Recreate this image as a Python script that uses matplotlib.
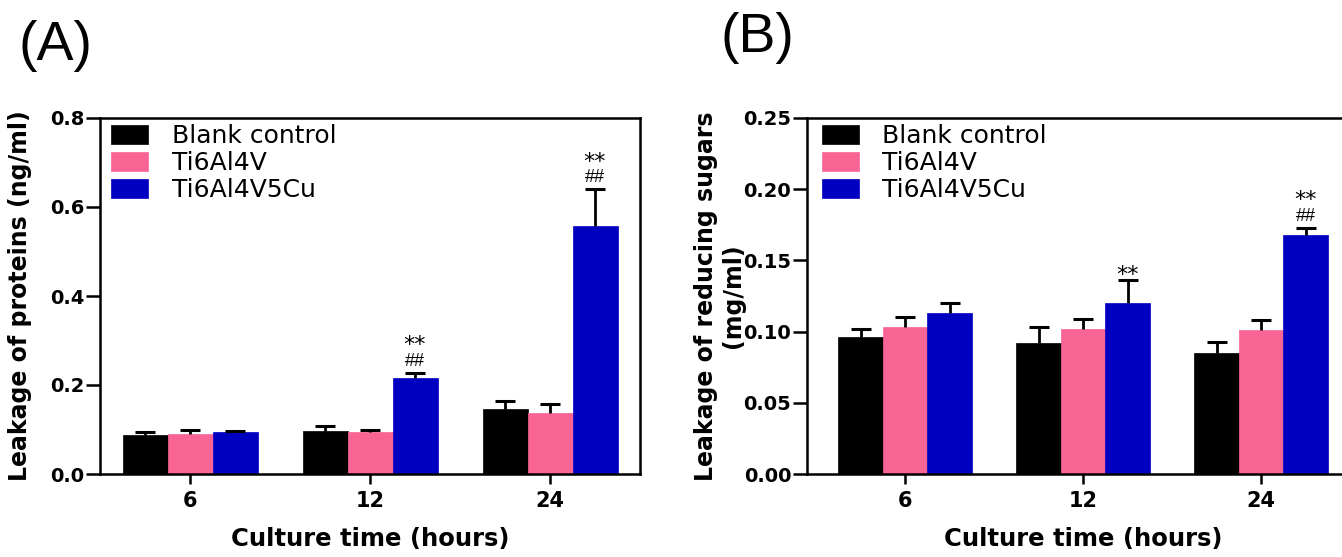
#!/usr/bin/env python3

import numpy as np
import matplotlib.pyplot as plt
import matplotlib as mpl

mpl.rcParams["font.family"] = "DejaVu Sans"

# groups on the x axis
times = ["6", "12", "24"]
groups = ["Blank control", "Ti6Al4V", "Ti6Al4V5Cu"]
colors = ["#000000", "#F86494", "#0000C0"]

# (A) leakage of proteins (ng/ml), mean and upper error
prot_blank = [0.088, 0.096, 0.147]
prot_ti = [0.090, 0.094, 0.137]
prot_cu = [0.094, 0.216, 0.557]
prot_blank_err = [0.006, 0.011, 0.017]
prot_ti_err = [0.010, 0.004, 0.020]
prot_cu_err = [0.002, 0.011, 0.083]

# (B) leakage of reducing sugars (mg/ml)
sug_blank = [0.096, 0.092, 0.085]
sug_ti = [0.103, 0.102, 0.101]
sug_cu = [0.113, 0.120, 0.168]
sug_blank_err = [0.006, 0.011, 0.008]
sug_ti_err = [0.007, 0.007, 0.007]
sug_cu_err = [0.007, 0.016, 0.005]

# significance marks above Ti6Al4V5Cu bars
prot_star = ["", "**", "**"]
prot_hash = ["", "##", "##"]
sug_star = ["", "**", "**"]
sug_hash = ["", "", "##"]

W, H = 1342, 557
fig = plt.figure(figsize=(W / 100, H / 100), dpi=100)

bw = 0.25


def draw_panel(ax, means, errs, stars, hashes, ylim, yticks, yfmt, ylabel, xlim):
    x = np.arange(len(times))
    for k in range(3):
        pos = x + (k - 1) * bw
        ax.bar(pos, means[k], bw, color=colors[k], edgecolor=colors[k],
               linewidth=0.5, label=groups[k], zorder=2)
        eb = ax.errorbar(pos, means[k], yerr=[np.zeros(len(times)), errs[k]],
                         fmt="none", ecolor="black", elinewidth=2, capsize=7.5,
                         capthick=2.2, zorder=3)
        # only upper whisker, hide the cap sitting on the bar top
        eb[1][0].set_visible(False)

    top = np.array(means[2]) + np.array(errs[2])
    for i in range(len(times)):
        if hashes[i]:
            ax.annotate(hashes[i], xy=(x[i] + bw, top[i]), xytext=(0, 5),
                        textcoords="offset points", ha="center", va="baseline",
                        fontsize=13, family="Liberation Sans")
            off = 15.5
        else:
            off = -0.8
        if stars[i]:
            ax.annotate(stars[i], xy=(x[i] + bw, top[i]), xytext=(0, off),
                        textcoords="offset points", ha="center", va="baseline",
                        fontsize=16)

    ax.set_xlim(xlim)
    ax.set_ylim(ylim)
    ax.set_xticks(x)
    ax.set_xticklabels(times, fontsize=15, fontweight="bold")
    ax.set_yticks(yticks)
    ax.set_yticklabels([yfmt.format(v) for v in yticks], fontsize=14,
                       fontweight="bold")
    ax.tick_params(axis="x", direction="out", length=7.5, width=1.8, pad=5)
    ax.tick_params(axis="y", direction="out", length=10, width=1.8, pad=1)
    for s in ax.spines.values():
        s.set_linewidth(1.8)
    ax.set_xlabel("Culture time (hours)", fontsize=17.5, fontweight="bold",
                  labelpad=11)
    ax.set_ylabel(ylabel, fontsize=17, fontweight="bold", linespacing=1.15)
    ax.legend(loc="upper left", frameon=False, fontsize=18, borderpad=0.25,
              borderaxespad=0, labelspacing=0.12, handlelength=1.48,
              handleheight=0.8, handletextpad=0.95)


ax1 = fig.add_axes([100 / W, 83 / H, 540 / W, 356 / H])
draw_panel(ax1, [prot_blank, prot_ti, prot_cu],
           [prot_blank_err, prot_ti_err, prot_cu_err],
           prot_star, prot_hash, (0, 0.8), [0, 0.2, 0.4, 0.6, 0.8], "{:.1f}",
           "Leakage of proteins (ng/ml)", (-0.5, 2.5))
ax1.legend_.set_bbox_to_anchor((0.009, 1.0))
ax1.yaxis.set_label_coords(-0.126, 0.5)

ax2 = fig.add_axes([806.6 / W, 83 / H, 553 / W, 356 / H])
draw_panel(ax2, [sug_blank, sug_ti, sug_cu],
           [sug_blank_err, sug_ti_err, sug_cu_err],
           sug_star, sug_hash, (0, 0.25), [0, 0.05, 0.10, 0.15, 0.20, 0.25],
           "{:.2f}", "Leakage of reducing sugars\n(mg/ml)", (-0.553, 2.553))
ax2.legend_.set_bbox_to_anchor((0.016, 1.0))
ax2.yaxis.set_label_coords(-0.112, 0.5)

fig.text(18 / W, 1 - 20 / H, "(A)", fontsize=40, family="Liberation Sans",
         va="top", ha="left")
fig.text(720 / W, 1 - 12 / H, "(B)", fontsize=40, family="Liberation Sans",
         va="top", ha="left")

fig.savefig("out.png", dpi=100)
